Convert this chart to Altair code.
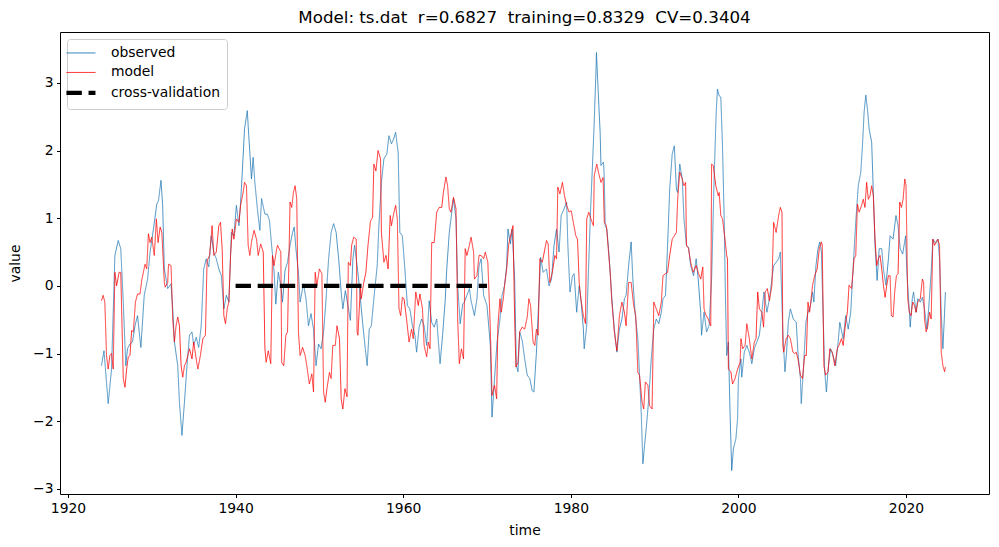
import altair as alt
import pandas as pd

# ---- observed series ----
obs_time = [
    1924.0, 1924.3, 1924.8, 1925.2, 1925.6, 1926.0, 1926.3, 1926.6, 1926.9, 1927.1, 1927.4, 1927.7,
    1928.0, 1928.3, 1928.7, 1929.1, 1929.5, 1929.8, 1930.2, 1930.6, 1930.8, 1931.1, 1931.3, 1931.5,
    1931.9, 1932.3, 1932.5, 1932.7, 1933.1, 1933.3, 1933.6, 1933.9, 1934.2, 1934.5, 1934.8, 1935.0,
    1935.3, 1935.6, 1935.9, 1936.2, 1936.5, 1936.8, 1937.1, 1937.4, 1937.7, 1938.0, 1938.3, 1938.6,
    1938.9, 1939.2, 1939.5, 1939.8, 1940.1, 1940.4, 1940.6, 1940.8,
    1941.07, 1941.4, 1941.5, 1941.9, 1942.1, 1942.3, 1942.6, 1942.9, 1943.1, 1943.5, 1943.8, 1944.05,
    1944.3, 1944.6, 1944.8, 1945.1, 1945.4, 1945.6, 1945.9, 1946.2, 1946.5, 1946.8, 1947.0, 1947.2,
    1947.5, 1947.7, 1948.1, 1948.4, 1948.7, 1949.0, 1949.3, 1949.6, 1949.9, 1950.2, 1950.5, 1950.8,
    1951.1, 1951.4, 1951.7, 1952.0, 1952.3, 1952.6, 1952.8, 1953.1, 1953.4, 1953.7, 1954.0, 1954.2,
    1954.5, 1954.8, 1955.0, 1955.35, 1955.7, 1955.95, 1956.2, 1956.5, 1956.9, 1957.1, 1957.4, 1957.7,
    1958.05, 1958.3, 1958.6, 1958.85,
    1959.1, 1959.4, 1959.6, 1959.9, 1960.2, 1960.5, 1960.8, 1961.1, 1961.4, 1961.6, 1961.9, 1962.2,
    1962.5, 1962.8, 1963.1, 1963.4, 1963.7, 1964.0, 1964.4, 1964.7, 1965.0, 1965.2, 1965.5, 1965.8,
    1966.0, 1966.3, 1966.5, 1966.8, 1967.1, 1967.3, 1967.6, 1967.9, 1968.1, 1968.5, 1968.8, 1969.05,
    1969.3, 1969.6, 1970.0, 1970.4, 1970.6, 1970.9, 1971.2, 1971.55, 1971.8, 1972.1, 1972.35, 1972.5,
    1972.8, 1973.0, 1973.3, 1973.5, 1973.7, 1973.9, 1974.2, 1974.5, 1974.8, 1975.1, 1975.4, 1975.6,
    1975.9, 1976.2, 1976.4, 1976.7,
    1977.1, 1977.4, 1977.7, 1978.0, 1978.3, 1978.6, 1978.85, 1979.2, 1979.5, 1979.65, 1979.9, 1980.2,
    1980.4, 1980.7, 1981.0, 1981.2, 1981.5, 1981.6, 1981.9, 1982.1, 1982.35, 1982.55, 1982.75, 1983.0,
    1983.06, 1983.2, 1983.5, 1983.6, 1983.9, 1984.0, 1984.1, 1984.3, 1984.5, 1984.7, 1984.9, 1985.2,
    1985.5, 1985.8, 1986.1, 1986.4, 1986.6, 1986.9, 1987.2, 1987.4, 1987.7, 1988.0, 1988.2, 1988.4,
    1988.6, 1988.8, 1989.0, 1989.3, 1989.6, 1989.9, 1990.2, 1990.5, 1990.8, 1991.0, 1991.3, 1991.55,
    1991.8, 1992.1, 1992.35, 1992.6, 1992.75, 1993.0, 1993.3, 1993.5, 1993.8, 1994.05, 1994.3, 1994.65,
    1994.96, 1995.2, 1995.5, 1995.6, 1995.9, 1996.2, 1996.5, 1996.8, 1997.1, 1997.35, 1997.5, 1997.7,
    1997.9, 1998.1, 1998.3, 1998.45, 1998.6, 1998.8, 1999.0, 1999.2, 1999.4, 1999.7, 1999.9, 2000.0,
    2000.3, 2000.4, 2000.7, 2001.0, 2001.3, 2001.6, 2001.9, 2002.2, 2002.5, 2002.8, 2003.05, 2003.4,
    2003.7, 2004.0, 2004.2, 2004.5, 2004.8, 2005.0, 2005.3, 2005.55, 2005.75, 2005.95, 2006.2, 2006.55,
    2006.9, 2007.1, 2007.4, 2007.5, 2007.8, 2008.05, 2008.3, 2008.6, 2008.85, 2009.0, 2009.25, 2009.5,
    2009.7, 2009.9, 2010.1, 2010.3, 2010.5, 2010.7, 2011.0, 2011.3, 2011.6, 2011.9, 2012.1,
    2012.5, 2012.8, 2013.1, 2013.4, 2013.7, 2014.0, 2014.3, 2014.6, 2014.8, 2015.0, 2015.2, 2015.4,
    2015.6, 2015.9, 2016.1, 2016.3, 2016.55, 2016.8, 2017.1, 2017.3, 2017.6, 2017.9, 2018.1, 2018.45,
    2018.8, 2019.05, 2019.3, 2019.6, 2019.95, 2020.1, 2020.4, 2020.5, 2020.75, 2020.9, 2021.2, 2021.4,
    2021.7, 2021.95, 2022.2, 2022.5, 2022.7, 2023.0, 2023.2, 2023.5, 2023.8, 2024.0, 2024.2, 2024.4,
    2024.6, 2024.7,
]
obs_value = [
    -1.18, -0.96, -1.74, -1.23, 0.45, 0.67, 0.55, -0.24, -1.18, -0.93, -0.86, -0.83,
    -0.59, -0.44, -0.91, -0.14, 0.10, 0.50, 0.84, 1.21, 1.26, 1.56, 1.19, 0.25,
    -0.04, 0.03, -0.34, -0.83, -1.18, -1.72, -2.21, -1.72, -1.18, -0.73, -0.68, -0.88,
    -0.76, -0.91, -0.59, 0.25, 0.40, 0.28, 0.74, 0.50, 0.40, 0.25, 0.15, -0.34,
    -0.14, -0.24, 0.79, 0.74, 1.19, 0.89, 1.24, 1.68,
    2.32, 2.59, 2.37, 1.58, 1.90, 1.53, 1.14, 0.82, 1.29, 1.06, 1.06, 0.96,
    0.60, 0.20, -0.27, 0.20, 0.00, -0.24, 0.23, 0.35, 0.60, 0.79, 0.87, 0.55,
    0.20, -0.24, 0.03, -0.19, -0.59, -0.41, -0.64, -1.18, -0.86, -0.93, -0.68, -0.19,
    0.40, 0.79, 0.92, 0.79, 0.40, -0.09, -0.34, -0.07, -0.29, -0.51, 0.40, 0.60,
    0.30, -0.04, -0.34, -0.78, -1.18, -0.64, -0.59, -0.19, 0.30, 0.89, 1.53, 1.88,
    1.95, 2.22, 2.10, 2.17,
    2.27, 1.97, 0.79, 0.74, 0.25, -0.29, -0.34, -0.59, -0.73, -0.98, -0.61, -0.49,
    -0.59, -0.88, -0.22, -0.54, -0.61, -0.49, -1.15, -0.73, -0.24, 0.25, 0.79, 1.09,
    1.29, 0.99, 0.01, -0.56, -0.27, -0.24, -0.14, -0.04, -0.22, -0.44, -0.19, 0.30,
    0.40, -0.14, -0.29, -0.88, -1.94, -1.37, -0.83, -0.49, -0.14, 0.01, 0.30, 0.84,
    0.62, 0.84, 0.10, -1.18, -1.27, -0.68, -0.81, -1.08, -1.32, -1.37, -1.55, -1.57,
    -0.98, -0.14, 0.42, 0.20,
    0.25, 0.00, 0.10, 0.60, 0.84, 0.50, 1.04, 1.14, 1.24, 0.60, -0.09, 0.15,
    0.18, -0.39, 0.00, -0.19, -0.64, -0.93, -0.59, 0.20, 1.09, 1.68, 2.27, 3.16,
    3.45, 3.06, 2.27, 1.78, 1.83, 1.58, 0.89, 0.84, 0.55, 0.20, -0.19, -0.64,
    -0.98, -0.64, -0.49, -0.19, -0.14, 0.30, 0.65, 0.10, -0.44, -0.78, -1.32, -1.87,
    -2.63, -2.36, -2.11, -1.67, -1.08, -0.64, -0.49, -0.56, -0.39, -0.19, -0.14, 0.60,
    1.43, 1.95, 2.07, 1.43, 1.38, 1.80, 1.58, 0.99, 0.60, 0.57, 0.30, 0.15,
    0.40, 0.10, -0.39, -0.73, -0.39, -0.68, -0.59, 0.10, 1.58, 2.57, 2.91, 2.81,
    2.79, 2.07, 0.99, -0.14, -1.03, -0.83, -1.87, -2.73, -2.41, -2.26, -1.96, -1.37,
    -1.08, -1.35, -0.98, -0.88, -0.98, -1.15, -0.93, -0.83, -0.73, -0.39, -0.09, -0.39,
    -0.19, 0.10, 0.30, 0.35, 0.40, 0.50, -0.68, -1.27, -0.98, -0.54, -0.34, -0.49,
    -0.54, -0.98, -1.37, -1.74, -1.13, -0.54, -0.39, -0.29, -0.09, -0.24, 0.30, 0.55,
    0.65, 0.50, -0.39, -1.27, -1.57, -1.23, -0.93, -1.03, -1.18, -0.83, -0.54,
    -0.78, -0.44, -0.64, -0.39, 0.30, 0.94, 1.48, 1.68, 2.07, 2.57, 2.82, 2.61,
    2.32, 2.12, 1.38, 0.60, 0.08, 0.55, 0.55, 0.25, 0.01, 0.40, 0.74, 0.69,
    1.04, 0.89, 0.55, 0.47, 0.74, 0.20, -0.39, -0.61, -0.19, -0.09, -0.39, -0.19,
    -0.24, -0.17, -0.34, -0.64, -0.34, 0.20, 0.69, 0.64, 0.69, 0.40, -0.39, -0.93,
    -0.39, -0.09,
]

# ---- model series ----
mod_time = [
    1924.0, 1924.2, 1924.4, 1924.6, 1924.8, 1925.0, 1925.2, 1925.4, 1925.6, 1925.8, 1926.1, 1926.3,
    1926.6, 1926.8, 1927.0, 1927.2, 1927.4, 1927.6, 1927.8, 1928.05, 1928.3, 1928.6, 1928.8, 1929.2,
    1929.4, 1929.6, 1929.8, 1930.0, 1930.3, 1930.55, 1930.75, 1931.0, 1931.2, 1931.5, 1931.6, 1931.9,
    1932.0, 1932.3, 1932.5, 1932.7, 1932.9, 1933.1, 1933.3, 1933.5, 1933.7, 1933.9, 1934.1, 1934.3,
    1934.5, 1934.8, 1935.0, 1935.3, 1935.5, 1935.8, 1936.1, 1936.4, 1936.6, 1936.9, 1937.2, 1937.4,
    1937.7, 1938.0, 1938.2, 1938.4, 1938.6, 1938.8, 1939.0, 1939.2, 1939.4, 1939.6, 1939.8, 1940.1,
    1940.4, 1940.6, 1940.9,
    1941.07, 1941.3, 1941.5, 1941.7, 1941.9, 1942.2, 1942.5, 1942.7, 1943.0, 1943.3, 1943.5, 1943.65,
    1943.9, 1944.2, 1944.4, 1944.6, 1944.8, 1945.0, 1945.4, 1945.5, 1945.75, 1946.0, 1946.2, 1946.5,
    1946.7, 1946.9, 1947.1, 1947.3, 1947.5, 1947.7, 1948.0, 1948.3, 1948.5, 1948.8, 1949.1, 1949.3,
    1949.5, 1949.7, 1950.0, 1950.3, 1950.5, 1950.7, 1950.9, 1951.2, 1951.4, 1951.6, 1951.9, 1952.1,
    1952.4, 1952.6, 1952.8, 1953.05, 1953.3, 1953.45, 1953.7, 1953.85, 1954.1, 1954.4, 1954.5, 1954.6,
    1954.9, 1955.0, 1955.3, 1955.55, 1955.8, 1956.1, 1956.35, 1956.5, 1956.75, 1957.0, 1957.3, 1957.4,
    1957.7, 1957.95, 1958.2, 1958.45, 1958.6, 1958.85,
    1959.1, 1959.3, 1959.5, 1959.7, 1959.9, 1960.1, 1960.4, 1960.7, 1961.0, 1961.2, 1961.5, 1961.8,
    1962.0, 1962.3, 1962.5, 1962.8, 1963.0, 1963.2, 1963.4, 1963.7, 1964.0, 1964.3, 1964.6, 1964.8,
    1965.1, 1965.3, 1965.5, 1965.7, 1966.0, 1966.3, 1966.5, 1966.7, 1966.95, 1967.2, 1967.4, 1967.6,
    1967.9, 1968.1, 1968.4, 1968.5, 1968.8, 1969.05, 1969.3, 1969.6, 1969.8, 1970.1, 1970.4, 1970.6,
    1970.9, 1971.15, 1971.3, 1971.55, 1971.7, 1971.95, 1972.1, 1972.35, 1972.6, 1972.9, 1973.1, 1973.3,
    1973.45, 1973.7, 1973.9, 1974.2, 1974.5, 1974.8, 1975.0, 1975.2, 1975.5, 1975.7, 1975.9, 1976.1,
    1976.3, 1976.6,
    1977.1, 1977.3, 1977.5, 1977.8, 1978.1, 1978.3, 1978.45, 1978.7, 1979.0, 1979.25, 1979.5, 1979.8,
    1980.05, 1980.3, 1980.6, 1980.8, 1981.0, 1981.2, 1981.5, 1981.75, 1981.9, 1982.15, 1982.4, 1982.7,
    1982.8, 1983.1, 1983.3, 1983.6, 1983.85, 1984.0, 1984.25, 1984.5, 1984.7, 1984.9, 1985.2, 1985.5,
    1985.8, 1986.1, 1986.4, 1986.6, 1986.9, 1987.2, 1987.5, 1987.75, 1988.0, 1988.2, 1988.5, 1988.7,
    1988.9, 1989.2, 1989.4, 1989.7, 1989.9, 1990.2, 1990.5, 1990.8, 1991.0, 1991.3, 1991.55, 1991.8,
    1992.1, 1992.35, 1992.6, 1992.75, 1993.0, 1993.3, 1993.5, 1993.7, 1993.8, 1994.05, 1994.3, 1994.6,
    1994.96, 1995.2, 1995.5, 1995.75, 1995.9, 1996.15, 1996.4, 1996.7, 1996.8, 1997.0, 1997.3, 1997.6,
    1997.7, 1997.9, 1998.1, 1998.4, 1998.6, 1998.7, 1998.8, 1999.1, 1999.3, 1999.6, 1999.9, 2000.2,
    2000.3, 2000.5, 2000.8, 2001.0, 2001.3, 2001.6, 2001.9, 2002.1, 2002.3, 2002.5, 2002.8, 2003.0,
    2003.2, 2003.45, 2003.7, 2004.0, 2004.2, 2004.5, 2004.8, 2005.0, 2005.2, 2005.3, 2005.4, 2005.7,
    2005.95, 2006.2, 2006.5, 2006.7, 2006.9, 2007.1, 2007.4, 2007.65, 2007.9, 2008.1, 2008.3, 2008.5,
    2008.85, 2009.1, 2009.4, 2009.65, 2009.9, 2010.0, 2010.2, 2010.4, 2010.7, 2010.9, 2011.2, 2011.5,
    2011.8, 2012.0, 2012.3,
    2012.5, 2012.8, 2013.0, 2013.2, 2013.5, 2013.8, 2014.0, 2014.2, 2014.4, 2014.7, 2014.9, 2015.1,
    2015.3, 2015.5, 2015.7, 2015.9, 2016.1, 2016.3, 2016.5, 2016.7, 2016.9, 2017.1, 2017.3, 2017.5,
    2017.7, 2017.9, 2018.1, 2018.25, 2018.45, 2018.65, 2018.85, 2019.05, 2019.25, 2019.45, 2019.65, 2019.85,
    2020.0, 2020.2, 2020.4, 2020.6, 2020.8, 2021.0, 2021.2, 2021.4, 2021.7, 2021.95, 2022.1, 2022.2,
    2022.4, 2022.6, 2022.8, 2023.0, 2023.2, 2023.4, 2023.6, 2023.8, 2024.0, 2024.2, 2024.4, 2024.6,
    2024.7,
]
mod_value = [
    -0.22, -0.14, -0.24, -1.03, -1.23, -1.03, -1.00, -1.23, 0.20, 0.00, 0.20, 0.20,
    -1.37, -1.50, -1.23, -1.05, -1.03, -0.66, -0.68, -0.24, -0.12, -0.12, 0.08, 0.32,
    0.25, 0.77, 0.64, 0.72, 0.45, 0.99, 0.64, 0.87, 0.79, 0.05, -0.02, 0.05,
    0.32, 0.30, -0.49, -0.83, -0.59, -0.46, -0.59, -1.18, -1.35, -1.18, -1.13, -1.03,
    -0.93, -1.08, -0.83, -1.08, -1.23, -1.03, -0.78, -0.73, 0.37, 0.45, 0.89, 0.45,
    0.50, 0.89, 0.94, 0.55, -0.44, -0.56, -0.34, -0.24, 0.45, 0.84, 0.69, 0.99,
    0.94, 1.19, 1.38,
    1.53, 1.48, 0.60, 0.45, 0.65, 0.82, 0.69, 0.45, 0.62, 0.50, -0.93, -1.13,
    -0.96, -1.15, 0.45, 0.30, 0.47, 0.60, 0.50, -1.13, -1.18, -0.73, -0.68, 1.24,
    1.16, 1.38, 1.48, 1.29, -0.68, -1.03, -0.91, -1.03, -1.18, -1.45, -1.30, -1.57,
    0.20, 0.00, 0.25, 0.18, -1.57, -1.72, -1.52, -1.28, -1.37, -0.88, -0.88, -0.59,
    -0.78, -1.67, -1.82, -1.52, -1.64, 0.35, 0.30, 0.60, 0.72, 0.69, -0.68, -0.73,
    0.00, -0.19, 0.05, 0.20, 0.60, 0.96, 1.01, 1.80, 1.70, 2.00, 1.88, 0.79,
    0.35, 0.45, 0.25, 1.04, 0.89, 1.06,
    1.19, 0.99, -0.34, -0.44, -0.17, -0.19, -0.49, -0.83, -0.64, -0.78, -0.09, -0.29,
    -0.12, -0.34, -0.88, -1.05, -0.83, -0.93, 0.64, 0.64, 1.09, 1.16, 1.16, 1.38,
    1.61, 1.48, 1.14, 1.09, 1.31, 1.14, -0.49, -1.15, -0.93, -1.08, 0.55, 0.45,
    0.60, 0.72, 0.50, 0.10, 0.15, 0.45, 0.45, 0.40, 0.50, 0.35, -0.64, -1.62,
    -1.47, -1.67, -0.59, -0.19, -0.39, -0.19, 0.01, 0.25, 0.62, 0.79, 0.89, -0.49,
    -1.20, -1.13, -0.68, -0.61, -0.64, -0.46, -0.19, -0.29, -0.83, -0.88, -0.64, -0.73,
    0.40, 0.35,
    0.67, 0.62, 0.05, 0.20, 0.45, 0.40, 1.46, 1.36, 1.53, 1.33, 1.19, 1.09,
    1.11, 0.94, 0.74, 0.69, 0.05, -0.19, -0.44, -0.56, 0.99, 1.09, 0.99, 0.89,
    1.63, 1.80, 1.68, 1.53, 1.60, 0.94, 0.89, 0.50, 0.20, -0.24, -0.69, -0.96,
    -0.44, -0.24, -0.39, -0.59, 0.05, 0.05, -0.29, -0.44, -1.28, -1.32, -1.72, -1.82,
    -1.42, -1.47, -1.77, -1.82, -0.24, -0.34, -0.44, -0.24, 0.15, 0.18, 0.20, 0.45,
    0.69, 0.74, 0.79, 1.28, 1.68, 1.58, 1.48, 1.53, 0.60, 0.55, 0.35, 0.20,
    0.30, 0.20, 0.10, 0.28, -0.34, -0.44, -0.49, -0.59, 1.80, 1.78, 1.48, 1.33,
    1.38, 1.04, 0.99, 0.69, 0.45, 0.40, -1.23, -1.27, -1.45, -1.37, -1.23, -1.13,
    -0.78, -0.93, -0.88, -0.56, -0.78, -1.08, -0.83, -0.78, -0.09, -0.34, -0.39, -0.61,
    -0.09, -0.04, -0.22, 0.01, 0.94, 0.79, 1.04, 1.16, 1.09, -0.88, -0.98, -0.78,
    -0.73, -0.78, -0.98, -1.00, -0.98, -1.08, -1.32, -1.37, -1.03, -1.03, -0.24, -0.39,
    0.01, 0.15, 0.25, 0.55, 0.65, 0.60, -1.18, -1.32, -1.27, -0.93, -0.98, -1.18,
    -0.93, -0.88, -0.78,
    -0.88, -0.54, -0.39, 0.01, -0.04, 0.40, 0.45, 1.21, 1.09, 1.19, 1.28, 1.16,
    1.53, 1.28, 1.33, 1.48, 1.33, 0.69, 0.30, 0.40, 0.45, 0.25, 0.01, -0.17,
    0.01, 0.15, 0.15, -0.44, -0.46, -0.09, 0.15, 0.18, 1.24, 1.16, 1.28, 1.58,
    1.48, -0.19, -0.39, -0.44, -0.24, -0.29, -0.39, -0.24, -0.19, 0.10, 0.05, -0.49,
    -0.68, -0.59, -0.39, -0.49, 0.69, 0.60, 0.64, 0.69, 0.60, -0.98, -1.18, -1.27,
    -1.20,
]

# ---- cross-validation segment ----
cv_time = [1940.0, 1970.0]
cv_value = [0.0, 0.0]

series_names = ["observed", "model", "cross-validation"]
series_colors = ["#1f77b4", "#ff0000", "#000000"]
series_dashes = [[1, 0], [1, 0], [15.4, 6.7]]
x_ticks = [1920, 1940, 1960, 1980, 2000, 2020]
y_ticks = [-3, -2, -1, 0, 1, 2, 3]

df = pd.concat([
    pd.DataFrame({"time": obs_time, "value": obs_value, "series": "observed"}),
    pd.DataFrame({"time": mod_time, "value": mod_value, "series": "model"}),
    pd.DataFrame({"time": cv_time, "value": cv_value, "series": "cross-validation"}),
], ignore_index=True)

FONT = "DejaVu Sans"

legend = alt.Legend(
    title=None,
    orient="top-left",
    offset=7,
    padding=7,
    fillColor="rgba(255,255,255,0.8)",
    strokeColor="#cccccc",
    cornerRadius=3,
    symbolType="stroke",
    symbolSize=841,
    symbolStrokeWidth=alt.ExprRef("datum.value === 'cross-validation' ? 4.2 : 1"),
    labelFont=FONT,
    labelFontSize=13.9,
    labelColor="black",
    labelOffset=23,
    rowPadding=4.5,
)

x_enc = alt.X(
    "time:Q",
    title="time",
    scale=alt.Scale(domain=[1919.05, 2029.9], nice=False, zero=False),
    axis=alt.Axis(values=x_ticks, format="d", titlePadding=8.5),
)
y_enc = alt.Y(
    "value:Q",
    title="value",
    scale=alt.Scale(domain=[-3.077, 3.753], nice=False, zero=False),
    axis=alt.Axis(values=y_ticks, labelExpr="replace(datum.label, '-', '\u2212')", titlePadding=10),
)
color_enc = alt.Color(
    "series:N",
    scale=alt.Scale(domain=series_names, range=series_colors),
    legend=legend,
)
dash_enc = alt.StrokeDash(
    "series:N",
    scale=alt.Scale(domain=series_names, range=series_dashes),
    legend=legend,
)

base = alt.Chart(df).encode(x=x_enc, y=y_enc, color=color_enc, strokeDash=dash_enc)

obs_layer = base.transform_filter(alt.datum.series == "observed").mark_line(strokeWidth=0.8, clip=True)
mod_layer = base.transform_filter(alt.datum.series == "model").mark_line(strokeWidth=0.8, clip=True)
cv_layer = base.transform_filter(alt.datum.series == "cross-validation").mark_line(
    strokeWidth=4.2, strokeCap="butt", clip=True
)

chart = (
    alt.layer(obs_layer, mod_layer, cv_layer)
    .properties(
        width=929,
        height=462,
        padding={"left": 52, "top": 24, "right": 2, "bottom": 45},
        autosize=alt.AutoSizeParams(type="none"),
        title=alt.TitleParams(
            text="Model: ts.dat\u00a0 r=0.6827\u00a0 training=0.8329\u00a0 CV=0.3404",
            font=FONT,
            fontSize=16.7,
            fontWeight="normal",
            color="black",
            anchor="middle",
            offset=5,
        ),
    )
    .configure(background="white")
    .configure_view(stroke="black", strokeWidth=1)
    .configure_axis(
        domain=False,
        grid=False,
        ticks=True,
        tickColor="black",
        tickSize=3.5,
        tickWidth=1,
        labelFont=FONT,
        labelFontSize=13.9,
        labelColor="black",
        labelPadding=3.5,
        titleFont=FONT,
        titleFontSize=13.9,
        titleFontWeight="normal",
        titleColor="black",
    )
)

chart.save("out.html", embed_options={"renderer": "svg", "actions": False})
